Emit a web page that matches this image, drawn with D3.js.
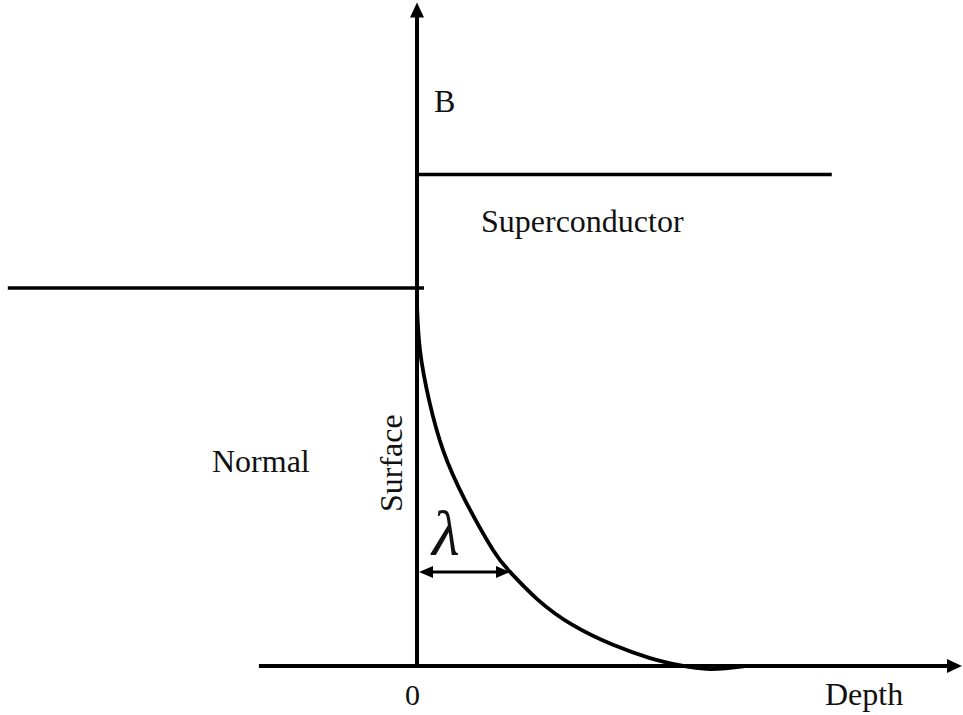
<!DOCTYPE html>
<html>
<head>
<meta charset="utf-8">
<script src="https://cdn.jsdelivr.net/npm/d3@7"></script>
<style>
  html, body { margin: 0; padding: 0; background: #fff; }
  svg { display: block; }
  text { font-family: "Liberation Serif", "Times New Roman", Times, serif; fill: #111; }
</style>
</head>
<body>
<svg id="chart" width="963" height="715"></svg>
<script>
// ---- data (depth in units of lambda, B in units of applied field B0) ----
const curveDepth = [0, 0.032, 0.129, 0.280, 0.516, 0.817, 1.0, 1.301, 1.677, 2.108, 2.505, 2.806, 3.151, 3.527];
const curveB     = [0.955, 0.836, 0.704, 0.571, 0.439, 0.307, 0.249, 0.175, 0.108, 0.056, 0.021, 0.003, -0.008, 0];
const normalLevel = { depth: [-4.40, 0.075], B: 1.0 };
const superLevel  = { depth: [0.0, 4.46], B: 1.30 };
const depthAxisExtent = [-1.70, 5.86];
const bAxisExtent = [0, 1.755];
const lambdaDepth = 1.0;
const lambdaB = 0.249;
const tickValues = [0];
const tickLabels = ["0"];

const svg = d3.select("#chart");
const x = d3.scaleLinear().domain([0, 1]).range([417, 510]);
const y = d3.scaleLinear().domain([0, 1]).range([666, 288]);

// Axes lines
const axisW = 4;
svg.append("line")
  .attr("x1", x(depthAxisExtent[0])).attr("x2", x(depthAxisExtent[1]) - 12)
  .attr("y1", y(0)).attr("y2", y(0))
  .attr("stroke", "#000").attr("stroke-width", axisW);
svg.append("path")
  .attr("d", `M${x(depthAxisExtent[1])},${y(0)} L${x(depthAxisExtent[1]) - 15},${y(0) - 7} L${x(depthAxisExtent[1]) - 15},${y(0) + 7} Z`)
  .attr("fill", "#000");

svg.append("line")
  .attr("x1", x(0)).attr("x2", x(0))
  .attr("y1", y(0) + 2).attr("y2", y(bAxisExtent[1]) + 12)
  .attr("stroke", "#000").attr("stroke-width", axisW);
svg.append("path")
  .attr("d", `M${x(0)},${y(bAxisExtent[1])} L${x(0) - 7},${y(bAxisExtent[1]) + 15} L${x(0) + 7},${y(bAxisExtent[1]) + 15} Z`)
  .attr("fill", "#000");

// Tick label "0" via axis
const xAxis = d3.axisBottom(x).tickValues(tickValues).tickSize(0)
  .tickFormat((d, i) => tickLabels[i]);
const gx = svg.append("g").attr("transform", `translate(0,${y(0)})`).call(xAxis);
gx.select(".domain").remove();
gx.selectAll("text")
  .attr("font-family", "Liberation Serif, Times New Roman, serif")
  .attr("font-size", 30)
  .attr("fill", "#111")
  .attr("dy", null)
  .attr("y", 39)
  .attr("dx", -5);

// Field levels
svg.append("line")
  .attr("x1", x(normalLevel.depth[0])).attr("x2", x(normalLevel.depth[1]))
  .attr("y1", y(normalLevel.B)).attr("y2", y(normalLevel.B))
  .attr("stroke", "#000").attr("stroke-width", 3.5);
svg.append("line")
  .attr("x1", x(superLevel.depth[0])).attr("x2", x(superLevel.depth[1]))
  .attr("y1", y(superLevel.B)).attr("y2", y(superLevel.B))
  .attr("stroke", "#000").attr("stroke-width", 3.5);

// Decay curve
const pts = curveDepth.map((d, i) => [d, curveB[i]]);
const line = d3.line().x(d => x(d[0])).y(d => y(d[1])).curve(d3.curveNatural);
svg.append("path")
  .attr("d", line(pts))
  .attr("fill", "none")
  .attr("stroke", "#000")
  .attr("stroke-width", 3.8);

// Lambda double arrow
const ly = y(lambdaB);
const lx0 = x(0) + 2, lx1 = x(lambdaDepth);
svg.append("line")
  .attr("x1", lx0 + 8).attr("x2", lx1 - 8)
  .attr("y1", ly).attr("y2", ly)
  .attr("stroke", "#000").attr("stroke-width", 3);
svg.append("path")
  .attr("d", `M${lx0},${ly} L${lx0 + 14},${ly - 6} L${lx0 + 14},${ly + 6} Z`)
  .attr("fill", "#000");
svg.append("path")
  .attr("d", `M${lx1},${ly} L${lx1 - 14},${ly - 6} L${lx1 - 14},${ly + 6} Z`)
  .attr("fill", "#000");

// Labels
const fs = 32;
svg.append("text").attr("x", 434).attr("y", 112).attr("font-size", fs).text("B");
svg.append("text").attr("x", 481).attr("y", 232).attr("font-size", fs).text("Superconductor");
svg.append("text").attr("x", 212).attr("y", 472).attr("font-size", fs).text("Normal");
svg.append("text").attr("x", 825).attr("y", 705).attr("font-size", fs).text("Depth");
svg.append("text")
  .attr("transform", "translate(402,512) rotate(-90)")
  .attr("font-size", fs).text("Surface");
svg.append("text").attr("x", 432).attr("y", 555)
  .attr("font-size", 64).attr("font-style", "italic").text("λ");
</script>
</body>
</html>
